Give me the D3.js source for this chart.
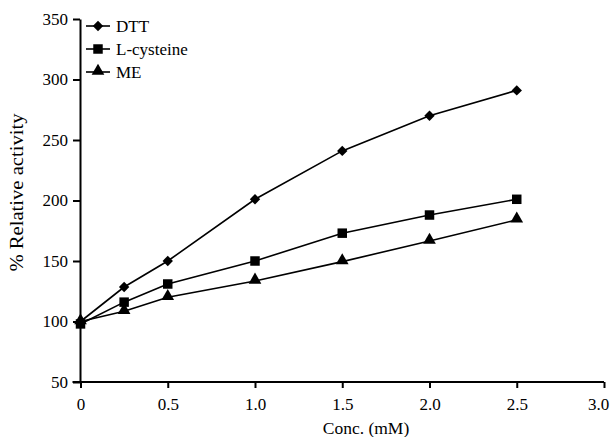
<!DOCTYPE html>
<html>
<head>
<meta charset="utf-8">
<script src="https://cdn.jsdelivr.net/npm/d3@7"></script>
<style>
  html, body { margin: 0; padding: 0; background: #fff; }
  svg { display: block; }
  text { font-family: "Liberation Serif", "DejaVu Serif", serif; fill: #000; }
</style>
</head>
<body>
<svg id="chart" width="613" height="437"></svg>
<script>
// Concentration (mM) and relative activity (%) for each reducing agent
const conc = [0, 0.25, 0.5, 1.0, 1.5, 2.0, 2.5];
const dtt = [100, 128.5, 150, 201, 241, 270, 291];
const cysteine = [98, 116, 131, 150, 173, 188, 201];
const me = [100, 108.5, 120, 133.5, 149.5, 166.5, 184];

const xTicks = [0, 0.5, 1.0, 1.5, 2.0, 2.5, 3.0];
const xTickLabels = ["0", "0.5", "1.0", "1.5", "2.0", "2.5", "3.0"];
const yTicks = [50, 100, 150, 200, 250, 300, 350];

const seriesNames = ["DTT", "L-cysteine", "ME"];
const seriesValues = [dtt, cysteine, me];
const seriesShapes = ["diamond", "square", "triangle"];

const serif = '"Liberation Serif", "DejaVu Serif", serif';
const svg = d3.select("#chart");

const x = d3.scaleLinear().domain([0, 3]).range([80.5, 604]);
const y = d3.scaleLinear().domain([50, 350]).range([382, 19]);

// marker path for a given shape name
function marker(shape) {
  if (shape === "diamond") return d3.symbol().type(d3.symbolSquare).size(54)();
  if (shape === "square") return d3.symbol().type(d3.symbolSquare).size(90)();
  return d3.symbol().type(d3.symbolTriangle).size(70)();
}
function markerTransform(shape, px, py) {
  if (shape === "diamond") return `translate(${px},${py}) rotate(45)`;
  if (shape === "triangle") return `translate(${px},${py - 1})`;
  return `translate(${px},${py})`;
}

// Axes
const xAxis = d3.axisBottom(x)
  .tickValues(xTicks)
  .tickFormat((d, i) => xTickLabels[i])
  .tickSizeInner(6).tickSizeOuter(0).tickPadding(10);
const yAxis = d3.axisLeft(y)
  .tickValues(yTicks)
  .tickFormat(d3.format("d"))
  .tickSizeInner(7).tickSizeOuter(0).tickPadding(5);

const gx = svg.append("g").attr("transform", `translate(0,${y(50)})`).call(xAxis);
const gy = svg.append("g").attr("transform", `translate(${x(0) - 0.5},0)`).call(yAxis);

[gx, gy].forEach(g => {
  g.attr("font-family", serif);
  g.select(".domain").attr("stroke", "#000").attr("stroke-width", 2);
  g.selectAll(".tick line").attr("stroke", "#000").attr("stroke-width", 2);
  g.selectAll(".tick text")
    .style("font-family", serif)
    .style("font-size", "17px").attr("fill", "#000");
});
// keep the last x label inside the frame
gx.selectAll(".tick text").filter(d => d === 3).attr("dx", -6);
// extend the x-axis line to meet the y-axis tick at 50
gx.select(".domain").attr("d", `M${x(0) - 8},0H${x(3)}`);

// Axis titles
svg.append("text")
  .attr("x", 366).attr("y", 434)
  .attr("text-anchor", "middle")
  .style("font-family", serif)
  .style("font-size", "17.5px")
  .text("Conc. (mM)");

svg.append("text")
  .attr("transform", `translate(23,${(y(50) + y(350)) / 2 - 8}) rotate(-90)`)
  .attr("text-anchor", "middle")
  .style("font-family", serif)
  .style("font-size", "18px")
  .attr("textLength", 158)
  .attr("lengthAdjust", "spacingAndGlyphs")
  .text("% Relative activity");

// Series lines and markers
const line = d3.line().x((d, i) => x(conc[i])).y(d => y(d));

seriesValues.forEach((vals, s) => {
  svg.append("path")
    .datum(vals)
    .attr("fill", "none")
    .attr("stroke", "#000")
    .attr("stroke-width", 1.6)
    .attr("d", line);

  svg.append("g").selectAll("path")
    .data(vals)
    .join("path")
    .attr("transform", (d, i) => markerTransform(seriesShapes[s], x(conc[i]), y(d)))
    .attr("d", marker(seriesShapes[s]))
    .attr("fill", "#000");
});

// Legend
const legend = svg.append("g");
seriesNames.forEach((name, s) => {
  const ly = 26 + s * 23;
  legend.append("line")
    .attr("x1", 86).attr("x2", 110)
    .attr("y1", ly).attr("y2", ly)
    .attr("stroke", "#000").attr("stroke-width", 1.6);
  legend.append("path")
    .attr("transform", markerTransform(seriesShapes[s], 98, ly))
    .attr("d", marker(seriesShapes[s]))
    .attr("fill", "#000");
  legend.append("text")
    .attr("x", 116).attr("y", ly + 6)
    .style("font-family", serif)
    .style("font-size", "17px")
    .text(name);
});
</script>
</body>
</html>
